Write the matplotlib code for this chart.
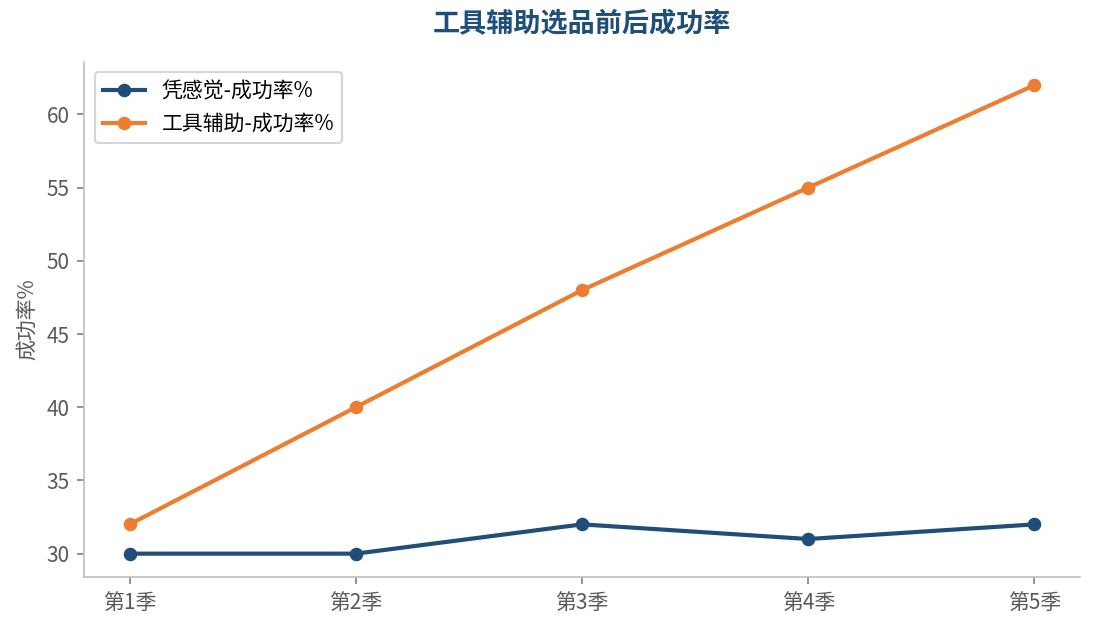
import matplotlib.pyplot as plt

plt.rcParams['font.family'] = ['Noto Sans CJK SC', 'DejaVu Sans']

quarters = ["第1季", "第2季", "第3季", "第4季", "第5季"]
gut_rate = [30, 30, 32, 31, 32]
tool_rate = [32, 40, 48, 55, 62]

BLUE = "#1f4e79"
ORANGE = "#ed7d31"
GRAY = "#595959"


def main():
    fig, ax = plt.subplots(figsize=(7.3, 4.2), dpi=150)

    x = range(len(quarters))
    ax.plot(x, gut_rate, color=BLUE, marker="o", linewidth=2, markersize=5.5, label="凭感觉-成功率%")
    ax.plot(x, tool_rate, color=ORANGE, marker="o", linewidth=2, markersize=5.5, label="工具辅助-成功率%")

    ax.set_xticks(list(x))
    ax.set_xticklabels(quarters)
    ax.set_ylabel("成功率%", color=GRAY, fontsize=10)
    ax.set_title("工具辅助选品前后成功率", color=BLUE, fontsize=13, fontweight="bold", pad=14)

    for side in ("top", "right"):
        ax.spines[side].set_visible(False)
    for side in ("left", "bottom"):
        ax.spines[side].set_color("#bfbfbf")
    ax.tick_params(colors=GRAY, labelsize=10)
    ax.tick_params(axis="both", color="#808080")

    leg = ax.legend(loc="upper left", fontsize=10, frameon=True)
    leg.get_frame().set_edgecolor("#cccccc")

    fig.subplots_adjust(left=0.077, right=0.986, top=0.902, bottom=0.084)
    fig.savefig("out.png", dpi=150)


if __name__ == "__main__":
    main()
